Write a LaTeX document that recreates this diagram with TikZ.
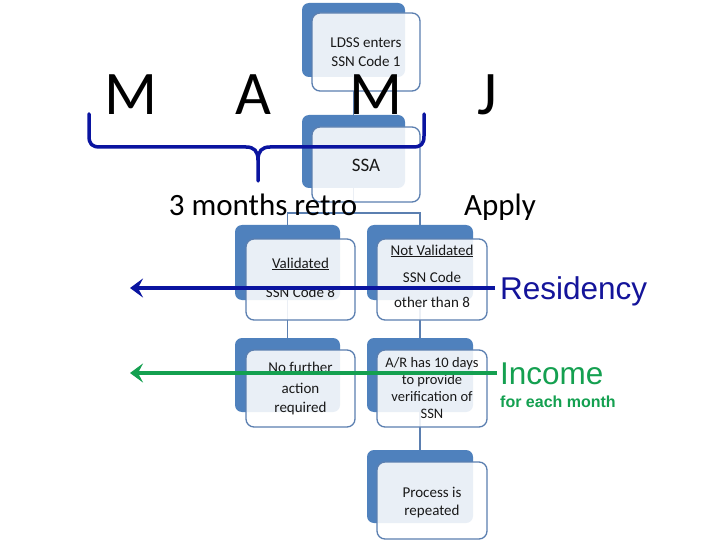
\documentclass[tikz,border=0pt]{standalone}
\usepackage{fontspec}
\setmainfont{Carlito}
\newfontfamily\arialfont{Liberation Sans}
\usetikzlibrary{arrows.meta}
\definecolor{backblue}{HTML}{4F81BD}
\definecolor{edgeblue}{HTML}{5B7FB0}
\definecolor{bracecol}{HTML}{0A14A0}
\definecolor{resblue}{HTML}{14149A}
\definecolor{incgreen}{HTML}{14A050}
\tikzset{
  backbox/.style={draw=none, fill=backblue, rounded corners=7pt, inner sep=0pt},
  frontbox/.style={draw=edgeblue, line width=1.3pt, fill=white, fill opacity=0.88, rounded corners=8pt, inner sep=0pt},
  conn/.style={draw=edgeblue, line width=1.6pt},
  boxtext/.style={anchor=base, inner sep=0pt, font=\fontsize{15}{18}\selectfont, text=black!90},
  bigletter/.style={anchor=base, inner sep=0pt, font=\fontsize{62}{62}\selectfont},
  midtext/.style={anchor=base, inner sep=0pt, font=\fontsize{31}{34}\selectfont},
  bracestyle/.style={draw=bracecol, line width=3.5pt, line cap=round, line join=round},
  bluearrow/.style={draw=bracecol, line width=3.8pt, -{Stealth[length=13pt,width=19pt,inset=5pt]}},
  greenarrow/.style={draw=incgreen, line width=3.8pt, -{Stealth[length=13pt,width=19pt,inset=5pt]}}
}
\begin{document}
\begin{tikzpicture}[x=1pt,y=-1pt]
\useasboundingbox (0,0) rectangle (720,540);
\fill[white] (0,0) rectangle (720,540);

% back boxes
\node[backbox, minimum width=103pt, minimum height=74pt] (b1) at (353.5,40) {};
\node[backbox, minimum width=103pt, minimum height=73pt] (b2) at (353.5,151.5) {};
\node[backbox, minimum width=105pt, minimum height=75pt] (b3) at (287.5,262.5) {};
\node[backbox, minimum width=106pt, minimum height=75pt] (b4) at (420,262.5) {};
\node[backbox, minimum width=105pt, minimum height=74pt] (b5) at (287.5,375) {};
\node[backbox, minimum width=106pt, minimum height=74pt] (b6) at (420,375) {};
\node[backbox, minimum width=106pt, minimum height=73pt] (b7) at (420,486.5) {};

% connectors
\draw[conn] (b1.south) -- (b2.north);
\draw[conn] (b2.south) -- (353.5,213);
\draw[conn] (b3.north) -- ++(0,-12) -| (b4.north);
\draw[conn] (b3.south) -- (b5.north);
\draw[conn] (b4.south) -- (b6.north);
\draw[conn] (b6.south) -- (b7.north);

% front boxes
\node[frontbox, minimum width=108pt, minimum height=78pt] (f1) at (366,52) {};
\node[frontbox, minimum width=108pt, minimum height=75pt] (f2) at (366,164.5) {};
\node[frontbox, minimum width=109pt, minimum height=81pt] (f3) at (300.5,279.5) {};
\node[frontbox, minimum width=110pt, minimum height=81pt] (f4) at (432,279.5) {};
\node[frontbox, minimum width=109pt, minimum height=77pt] (f5) at (300.5,388.5) {};
\node[frontbox, minimum width=110pt, minimum height=77pt] (f6) at (432,388.5) {};
\node[frontbox, minimum width=110pt, minimum height=77pt] (f7) at (432,500.5) {};

% box texts
\node[boxtext] (t1a) at (366,48) {LDSS enters};
\node[boxtext] (t1b) at (366,67) {SSN Code 1};
\node[boxtext, font=\fontsize{19}{22}\selectfont] (t2) at (366,172) {SSA};
\node[boxtext] (t3a) at (300.5,268) {\underline{Validated}};
\node[boxtext] (t3b) at (300.5,297) {SSN Code 8};
\node[boxtext] (t4a) at (432,255) {\underline{Not Validated}};
\node[boxtext] (t4b) at (432,282) {SSN Code};
\node[boxtext] (t4c) at (432,307) {other than 8};
\node[boxtext] (t5a) at (300.5,372) {No further};
\node[boxtext] (t5b) at (300.5,393) {action};
\node[boxtext] (t5c) at (300.5,412) {required};
\node[boxtext, font=\fontsize{14.5}{17}\selectfont] (t6a) at (432,367) {A/R has 10 days};
\node[boxtext, font=\fontsize{14.5}{17}\selectfont] (t6b) at (432,384) {to provide};
\node[boxtext, font=\fontsize{14.5}{17}\selectfont] (t6c) at (432,401) {verification of};
\node[boxtext, font=\fontsize{14.5}{17}\selectfont] (t6d) at (432,418) {SSN};
\node[boxtext] (t7a) at (432,497) {Process is};
\node[boxtext] (t7b) at (432,515) {repeated};

% big letters
\node[bigletter] (m1) at (131.5,115) {M};
\node[bigletter] (a1) at (253.5,115) {A};
\node[bigletter] (m2) at (376,115) {M};
\node[bigletter] (j1) at (487,115) {J};

% brace
\draw[bracestyle] (89,114) -- (89,136) .. controls (89,144) and (92,147) .. (100,147)
  -- (246,147) .. controls (254,147) and (258,151) .. (258,160) -- (258,181);
\draw[bracestyle] (258,160) .. controls (258,151) and (262,147) .. (270,147)
  -- (413,147) .. controls (421,147) and (424,144) .. (424,136) -- (424,114);

\node[midtext] (retro) at (263,215) {3 months retro};
\node[midtext] (apply) at (500,215) {Apply};

% arrows
\coordinate (rs) at (495,288);
\coordinate (re) at (130,288);
\coordinate (gs) at (497,373);
\coordinate (ge) at (130,373);
\draw[bluearrow] (rs) -- (re);
\draw[greenarrow] (gs) -- (ge);

\node[anchor=base west, inner sep=0pt, font=\arialfont\fontsize{31.5}{34}\selectfont, text=resblue] (res) at (500,299) {Residency};
\node[anchor=base west, inner sep=0pt, font=\arialfont\fontsize{31.5}{34}\selectfont, text=incgreen] (inc) at (500,384) {Income};
\node[anchor=base west, inner sep=0pt, font=\arialfont\bfseries\fontsize{16}{18}\selectfont, text=incgreen] (month) at (500,407.5) {for each month};
\end{tikzpicture}
\end{document}
